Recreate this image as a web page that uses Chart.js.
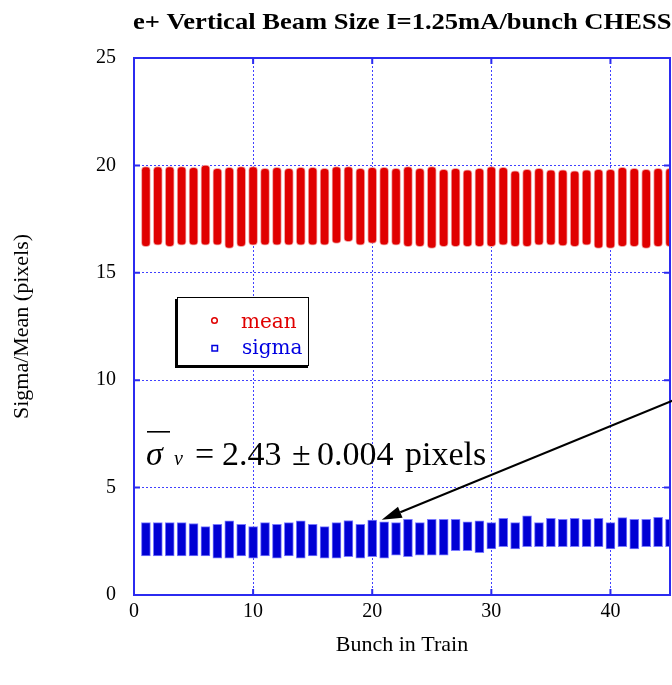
<!DOCTYPE html>
<html>
<head>
<meta charset="utf-8">
<script src="https://cdn.jsdelivr.net/npm/chart.js@4"></script>
<style>
  html, body { margin: 0; padding: 0; background: #fff; overflow: hidden; }
  canvas { display: block; }
</style>
</head>
<body>
<canvas id="beamChart" width="672" height="685"></canvas>
<script>
// bunch numbers along the train
const bunches = [1, 2, 3, 4, 5, 6, 7, 8, 9, 10, 11, 12, 13, 14, 15, 16, 17, 18, 19, 20,
  21, 22, 23, 24, 25, 26, 27, 28, 29, 30, 31, 32, 33, 34, 35, 36, 37, 38, 39, 40,
  41, 42, 43, 44, 45];

// spread of the measured mean (pixels) for each bunch
const meanLow = [16.22, 16.29, 16.22, 16.29, 16.29, 16.29, 16.29, 16.14, 16.22, 16.29,
  16.29, 16.29, 16.29, 16.29, 16.29, 16.29, 16.37, 16.45, 16.29, 16.37,
  16.29, 16.29, 16.22, 16.22, 16.14, 16.22, 16.22, 16.22, 16.22, 16.22,
  16.29, 16.22, 16.22, 16.29, 16.29, 16.25, 16.22, 16.29, 16.14, 16.14,
  16.22, 16.22, 16.14, 16.22, 16.22];
const meanHigh = [19.95, 19.95, 19.94, 19.94, 19.91, 20.02, 19.86, 19.91, 19.94, 19.94,
  19.86, 19.91, 19.86, 19.91, 19.91, 19.86, 19.94, 19.94, 19.86, 19.91,
  19.91, 19.86, 19.94, 19.86, 19.94, 19.82, 19.86, 19.79, 19.86, 19.94,
  19.91, 19.75, 19.82, 19.86, 19.79, 19.79, 19.75, 19.79, 19.82, 19.82,
  19.91, 19.86, 19.82, 19.86, 19.86];

// spread of the measured sigma (pixels) for each bunch
const sigmaLow = [1.82, 1.82, 1.82, 1.82, 1.82, 1.82, 1.71, 1.71, 1.82, 1.71,
  1.82, 1.71, 1.82, 1.71, 1.82, 1.71, 1.71, 1.78, 1.71, 1.78,
  1.71, 1.86, 1.78, 1.86, 1.86, 1.86, 2.06, 2.06, 1.97, 2.14,
  2.25, 2.14, 2.25, 2.25, 2.25, 2.25, 2.25, 2.25, 2.25, 2.14,
  2.25, 2.14, 2.25, 2.25, 2.25];
const sigmaHigh = [3.37, 3.37, 3.37, 3.37, 3.33, 3.18, 3.29, 3.45, 3.29, 3.18,
  3.37, 3.29, 3.37, 3.45, 3.29, 3.18, 3.37, 3.47, 3.29, 3.49,
  3.41, 3.37, 3.52, 3.37, 3.52, 3.52, 3.52, 3.41, 3.45, 3.37,
  3.57, 3.37, 3.68, 3.37, 3.57, 3.52, 3.57, 3.52, 3.57, 3.37,
  3.60, 3.52, 3.52, 3.62, 3.52];

const xTicks = [0, 10, 20, 30, 40];
const yTicks = [0, 5, 10, 15, 20, 25];

const titleText = 'e+ Vertical Beam Size I=1.25mA/bunch CHESS';

// arrow from the note down to the sigma band (data units)
const arrowFrom = { x: 45.9, y: 9.2 };
const arrowTo = { x: 20.8, y: 3.5 };

const BLUE_LINE = '#2b2bf0';
const serif = '"Liberation Serif", "Times New Roman", serif';

const ranges = (lo, hi) => bunches.map((b, i) => ({ x: b, y: [lo[i], hi[i]] }));

// frame, inner ticks, title, legend and note
const extras = {
  id: 'extras',
  afterDraw(chart) {
    const { ctx, chartArea: a, scales: { x, y } } = chart;
    ctx.save();

    // nothing sits right of the "40" label
    ctx.fillStyle = '#fff';
    ctx.fillRect(640, a.bottom + 3, 32, 30);

    // frame
    ctx.strokeStyle = BLUE_LINE;
    ctx.lineWidth = 2;
    ctx.strokeRect(a.left, a.top, a.right - a.left, a.bottom - a.top);
    ctx.beginPath();
    xTicks.forEach(v => {
      const px = x.getPixelForValue(v);
      ctx.moveTo(px, a.bottom); ctx.lineTo(px, a.bottom - 6);
      ctx.moveTo(px, a.top); ctx.lineTo(px, a.top + 6);
    });
    yTicks.forEach(v => {
      const py = y.getPixelForValue(v);
      ctx.moveTo(a.left, py); ctx.lineTo(a.left + 6, py);
      ctx.moveTo(a.right, py); ctx.lineTo(a.right - 6, py);
    });
    ctx.stroke();

    // title, slightly widened
    ctx.fillStyle = '#000';
    ctx.font = 'bold 23px ' + serif;
    ctx.textBaseline = 'alphabetic';
    ctx.textAlign = 'left';
    ctx.save();
    ctx.translate(133, 29);
    ctx.scale(1.155, 1);
    ctx.fillText(titleText, 0, 0);
    ctx.restore();

    // legend box with shadow
    ctx.fillStyle = '#000';
    ctx.fillRect(175, 299, 133, 69);
    ctx.fillStyle = '#fff';
    ctx.fillRect(177, 297, 132, 69);
    ctx.strokeStyle = '#000';
    ctx.lineWidth = 1;
    ctx.strokeRect(177.5, 297.5, 131, 68);

    ctx.strokeStyle = '#e00000';
    ctx.lineWidth = 1.5;
    ctx.beginPath();
    ctx.arc(214.5, 320.5, 2.8, 0, Math.PI * 2);
    ctx.stroke();
    ctx.strokeStyle = '#0000e0';
    ctx.strokeRect(212, 345.5, 5.5, 5.5);

    ctx.font = '20px "DejaVu Serif", serif';
    ctx.fillStyle = '#e00000';
    ctx.fillText('mean', 241, 328);
    ctx.fillStyle = '#0000e0';
    ctx.fillText('sigma', 242, 354);

    // average sigma note
    ctx.fillStyle = '#000';
    ctx.font = 'italic 34px ' + serif;
    ctx.fillText('\u03c3', 146, 465);
    ctx.fillRect(147, 431, 23, 1.6);
    ctx.font = 'italic 20px ' + serif;
    ctx.fillText('v', 174, 465);
    ctx.font = '34px ' + serif;
    ctx.fillText('=', 195, 465);
    ctx.fillText('2.43', 222, 465);
    ctx.fillText('\u00b1', 292, 465);
    ctx.fillText('0.004', 317, 465);
    ctx.fillText('pixels', 405, 465);

    // arrow
    const x0 = x.getPixelForValue(arrowFrom.x), y0 = y.getPixelForValue(arrowFrom.y);
    const x1 = x.getPixelForValue(arrowTo.x), y1 = y.getPixelForValue(arrowTo.y);
    const ang = Math.atan2(y1 - y0, x1 - x0);
    const len = 20, half = 6;
    const bx = x1 - len * Math.cos(ang), by = y1 - len * Math.sin(ang);
    ctx.strokeStyle = '#000';
    ctx.lineWidth = 2;
    ctx.beginPath();
    ctx.moveTo(x0, y0); ctx.lineTo(bx, by);
    ctx.stroke();
    ctx.beginPath();
    ctx.moveTo(x1, y1);
    ctx.lineTo(bx + half * Math.sin(ang), by - half * Math.cos(ang));
    ctx.lineTo(bx - half * Math.sin(ang), by + half * Math.cos(ang));
    ctx.closePath();
    ctx.fill();

    ctx.restore();
  }
};

const tickFont = { family: serif, size: 20 };
const titleFont = { family: serif, size: 22 };

new Chart(document.getElementById('beamChart'), {
  type: 'bar',
  data: {
    datasets: [
      {
        label: 'mean',
        data: ranges(meanLow, meanHigh),
        backgroundColor: '#e00000',
        borderColor: '#f3a6a6',
        borderWidth: 1,
        borderSkipped: false,
        borderRadius: 4,
        barThickness: 9,
        grouped: false,
        clip: 0
      },
      {
        label: 'sigma',
        data: ranges(sigmaLow, sigmaHigh),
        backgroundColor: '#0000d4',
        borderColor: '#7a7aff',
        borderWidth: 1,
        borderSkipped: false,
        barThickness: 9,
        grouped: false,
        clip: 0
      }
    ]
  },
  options: {
    responsive: false,
    animation: false,
    layout: { padding: { top: 58, right: 2, left: 0, bottom: 0 } },
    plugins: { legend: { display: false }, tooltip: { enabled: false } },
    scales: {
      x: {
        type: 'linear',
        min: 0,
        max: 45,
        offset: false,
        afterBuildTicks(scale) { scale.ticks = xTicks.map(v => ({ value: v })); },
        ticks: { color: '#000', font: tickFont, padding: 5, maxRotation: 0, autoSkip: false },
        grid: { color: '#4040ff', lineWidth: 1, drawTicks: false, offset: false },
        border: { display: false, dash: [2, 2] },
        title: { display: true, text: 'Bunch in Train', color: '#000', font: titleFont, padding: { top: 0, bottom: 27 } },
        afterFit(scale) { scale.height = 90; }
      },
      y: {
        min: 0,
        max: 25,
        afterBuildTicks(scale) { scale.ticks = yTicks.map(v => ({ value: v })); },
        ticks: { color: '#000', font: tickFont, padding: 18 },
        grid: { color: '#4040ff', lineWidth: 1, drawTicks: false },
        border: { display: false, dash: [2, 2] },
        title: { display: true, text: 'Sigma/Mean (pixels)', color: '#000', font: titleFont, padding: { top: 9, bottom: 0 } },
        afterFit(scale) { scale.width = 134; }
      }
    }
  },
  plugins: [extras]
});
</script>
</body>
</html>
